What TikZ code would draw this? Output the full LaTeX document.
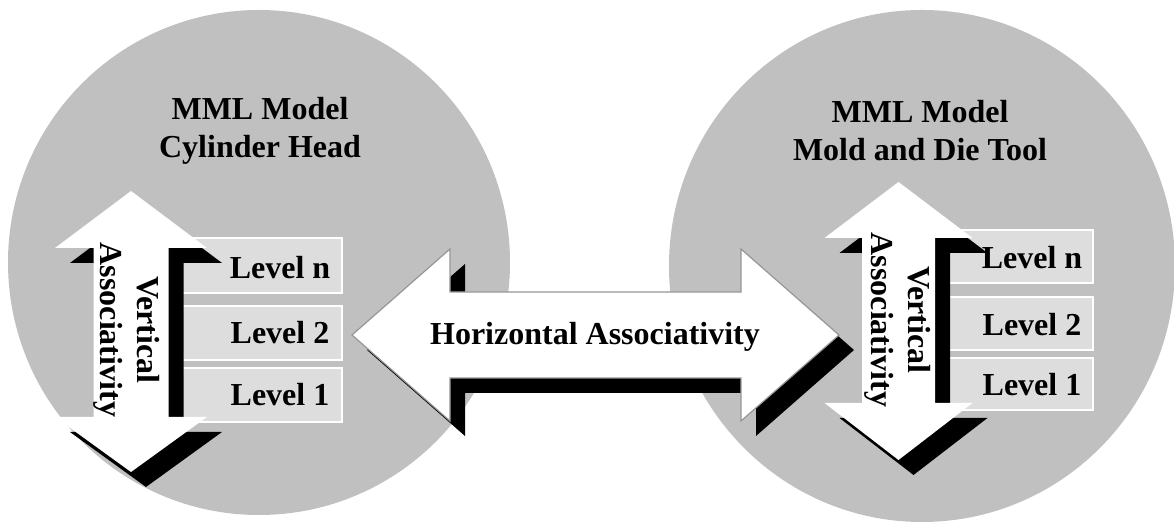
\documentclass[tikz,border=0pt]{standalone}
\usepackage{fontspec}
\setmainfont{Liberation Serif}
\definecolor{circgray}{RGB}{192,192,192}
\definecolor{boxgray}{RGB}{221,221,221}
\definecolor{edgegray}{RGB}{150,150,150}
\begin{document}
\begin{tikzpicture}[x=0.5pt,y=-0.5pt,
  bigdisc/.style={fill=circgray},
  shadowshape/.style={fill=black},
  whiteshape/.style={fill=white},
  outlined/.style={fill=white,draw=edgegray,line width=0.6pt},
  levelbox/.style={fill=boxgray,draw=white,line width=1pt},
  lbl/.style={font=\fontsize{16}{19}\selectfont\bfseries,inner sep=0pt},
  vlbl/.style={font=\fontsize{16}{18.5}\selectfont\bfseries,inner sep=0pt,align=center,rotate=-90}]
\useasboundingbox (0,0) rectangle (1174,522);
\clip (0,0) rectangle (1174,522);
% discs
\fill[bigdisc] (259,262.5) ellipse [x radius=251, y radius=252.5];
\fill[bigdisc] (922,266) ellipse [x radius=253, y radius=256];
% titles
\node[lbl,align=center] (t1) at (260,131) {MML Model\\Cylinder Head};
\node[lbl,align=center] (t2) at (920,131) {MML Model\\Mold and Die Tool};
% horizontal arrow
\fill[shadowshape,shift={(15,15)}] (352,335) -- (450,249) -- (450,292) -- (741,292) -- (741,249) -- (839,335) -- (741,421) -- (741,378) -- (450,378) -- (450,421) -- cycle;
\filldraw[outlined] (352,335) -- (450,249) -- (450,292) -- (741,292) -- (741,249) -- (839,335) -- (741,421) -- (741,378) -- (450,378) -- (450,421) -- cycle;
\node[lbl] (ha) at (595,337) {Horizontal Associativity};
% left level boxes
\draw[levelbox] (178,238) rectangle (342,293);
\draw[levelbox] (178,306) rectangle (342,360);
\draw[levelbox] (178,368) rectangle (342,422);
% right level boxes
\draw[levelbox] (940,230) rectangle (1093,283);
\draw[levelbox] (940,297) rectangle (1093,350);
\draw[levelbox] (940,358) rectangle (1093,410);
% left vertical arrow
\fill[shadowshape,shift={(15,15)}] (131,191) -- (207,248) -- (168.5,248) -- (168.5,417) -- (207,417) -- (131,472) -- (55,417) -- (93.5,417) -- (93.5,248) -- (55,248) -- cycle;
\fill[whiteshape] (131,191) -- (207,248) -- (168.5,248) -- (168.5,417) -- (207,417) -- (131,472) -- (55,417) -- (93.5,417) -- (93.5,248) -- (55,248) -- cycle;
% right vertical arrow
\fill[shadowshape,shift={(15,15)}] (898.5,182) -- (972.5,238) -- (935,238) -- (935,403) -- (972.5,403) -- (898.5,460) -- (824.5,403) -- (862,403) -- (862,238) -- (824.5,238) -- cycle;
\fill[whiteshape] (898.5,182) -- (972.5,238) -- (935,238) -- (935,403) -- (972.5,403) -- (898.5,460) -- (824.5,403) -- (862,403) -- (862,238) -- (824.5,238) -- cycle;
% level labels
\node[lbl] (ln1) at (280,268) {Level n};
\node[lbl] (l21) at (280,333) {Level 2};
\node[lbl] (l11) at (280,395) {Level 1};
\node[lbl] (ln2) at (1032,258) {Level n};
\node[lbl] (l22) at (1032,325) {Level 2};
\node[lbl] (l12) at (1032,385) {Level 1};
% vertical labels
\node[vlbl] (va1) at (127,330) {Vertical\\Associativity};
\node[vlbl] (va2) at (898,320) {Vertical\\Associativity};
\end{tikzpicture}
\end{document}
